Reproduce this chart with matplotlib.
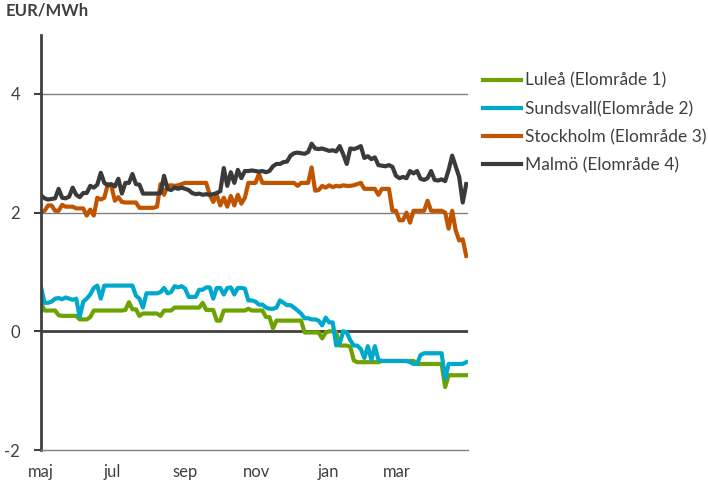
import numpy as np
import matplotlib
matplotlib.use('Agg')
import matplotlib.pyplot as plt

plt.rcParams['font.family'] = ['Lato', 'DejaVu Sans']
plt.rcParams['axes.unicode_minus'] = False

# dagar från 1 maj, var tredje dag
dagar = np.arange(0, 364, 3)

lulea = [0.47, 0.35, 0.35, 0.35, 0.35, 0.27, 0.26, 0.26, 0.26, 0.26,
         0.26, 0.20, 0.20, 0.20, 0.24, 0.35, 0.35, 0.35, 0.35, 0.35,
         0.35, 0.35, 0.35, 0.35, 0.36, 0.49, 0.37, 0.37, 0.26, 0.30,
         0.30, 0.30, 0.30, 0.30, 0.26, 0.35, 0.35, 0.35, 0.40, 0.40,
         0.40, 0.40, 0.40, 0.40, 0.40, 0.40, 0.48, 0.36, 0.36, 0.36,
         0.18, 0.18, 0.35, 0.35, 0.35, 0.35, 0.35, 0.35, 0.35, 0.38,
         0.35, 0.35, 0.35, 0.35, 0.24, 0.24, 0.05, 0.18, 0.18, 0.18,
         0.18, 0.18, 0.18, 0.18, 0.18, -0.02, -0.02, -0.02, -0.02, -0.02,
         -0.12, -0.02, 0.00, 0.00, -0.02, -0.24, -0.24, -0.24, -0.26, -0.49,
         -0.52, -0.52, -0.52, -0.52, -0.52, -0.52, -0.52, -0.50, -0.50, -0.50,
         -0.50, -0.50, -0.50, -0.50, -0.50, -0.50, -0.50, -0.55, -0.55, -0.55,
         -0.55, -0.55, -0.55, -0.55, -0.55, -0.94, -0.74, -0.74, -0.74, -0.74,
         -0.74, -0.74]

sundsvall = [0.74, 0.48, 0.48, 0.50, 0.55, 0.56, 0.54, 0.57, 0.55, 0.53,
             0.55, 0.24, 0.50, 0.55, 0.62, 0.73, 0.77, 0.55, 0.77, 0.77,
             0.77, 0.77, 0.77, 0.77, 0.77, 0.77, 0.77, 0.60, 0.55, 0.40,
             0.64, 0.64, 0.64, 0.64, 0.66, 0.73, 0.64, 0.66, 0.76, 0.74,
             0.76, 0.72, 0.58, 0.58, 0.58, 0.70, 0.70, 0.74, 0.74, 0.55,
             0.73, 0.73, 0.62, 0.73, 0.74, 0.62, 0.73, 0.73, 0.72, 0.52,
             0.52, 0.50, 0.45, 0.45, 0.40, 0.38, 0.38, 0.40, 0.52, 0.48,
             0.44, 0.44, 0.40, 0.35, 0.30, 0.22, 0.22, 0.20, 0.20, 0.18,
             0.10, 0.23, 0.15, 0.15, -0.24, -0.20, 0.00, -0.02, -0.15, -0.24,
             -0.24, -0.30, -0.45, -0.25, -0.48, -0.25, -0.48, -0.50, -0.50, -0.50,
             -0.50, -0.50, -0.50, -0.50, -0.50, -0.52, -0.55, -0.55, -0.40, -0.37,
             -0.37, -0.37, -0.37, -0.37, -0.37, -0.80, -0.55, -0.55, -0.55, -0.55,
             -0.55, -0.52]

stockholm = [2.00, 2.03, 2.12, 2.12, 2.03, 2.03, 2.13, 2.10, 2.10, 2.10,
             2.07, 2.07, 2.07, 1.95, 2.05, 1.95, 2.25, 2.22, 2.25, 2.48,
             2.45, 2.20, 2.26, 2.18, 2.17, 2.17, 2.17, 2.17, 2.08, 2.08,
             2.08, 2.08, 2.08, 2.10, 2.48, 2.30, 2.45, 2.46, 2.45, 2.46,
             2.48, 2.50, 2.50, 2.50, 2.50, 2.50, 2.50, 2.50, 2.30, 2.18,
             2.30, 2.12, 2.25, 2.10, 2.28, 2.12, 2.30, 2.15, 2.25, 2.50,
             2.50, 2.50, 2.65, 2.50, 2.50, 2.50, 2.50, 2.50, 2.50, 2.50,
             2.50, 2.50, 2.50, 2.45, 2.50, 2.50, 2.50, 2.76, 2.37, 2.38,
             2.45, 2.42, 2.46, 2.43, 2.45, 2.44, 2.46, 2.45, 2.45, 2.46,
             2.48, 2.50, 2.40, 2.40, 2.40, 2.40, 2.30, 2.40, 2.40, 2.40,
             2.03, 2.03, 1.87, 1.87, 2.00, 1.83, 2.03, 2.03, 2.03, 2.03,
             2.20, 2.03, 2.03, 2.03, 2.03, 2.00, 1.73, 2.03, 1.70, 1.53,
             1.55, 1.27]

malmo = [2.29, 2.24, 2.22, 2.23, 2.24, 2.40, 2.25, 2.24, 2.27, 2.42,
         2.30, 2.26, 2.33, 2.33, 2.45, 2.42, 2.47, 2.67, 2.50, 2.46,
         2.48, 2.44, 2.57, 2.32, 2.50, 2.50, 2.65, 2.48, 2.47, 2.32,
         2.32, 2.32, 2.32, 2.32, 2.33, 2.62, 2.40, 2.38, 2.42, 2.40,
         2.42, 2.40, 2.38, 2.33, 2.31, 2.32, 2.30, 2.31, 2.30, 2.31,
         2.33, 2.36, 2.75, 2.45, 2.68, 2.50, 2.72, 2.58, 2.70, 2.70,
         2.71, 2.70, 2.69, 2.70, 2.68, 2.70, 2.78, 2.82, 2.82, 2.85,
         2.86, 2.96, 3.00, 3.01, 3.00, 2.99, 3.02, 3.16, 3.08, 3.07,
         3.08, 3.06, 3.04, 3.05, 3.03, 3.12, 2.98, 2.82, 3.08, 3.07,
         3.09, 3.12, 2.92, 2.95, 2.90, 2.93, 2.80, 2.79, 2.78, 2.80,
         2.77, 2.62, 2.58, 2.60, 2.58, 2.70, 2.66, 2.70, 2.57, 2.55,
         2.58, 2.70, 2.55, 2.54, 2.56, 2.53, 2.72, 2.96, 2.78, 2.60,
         2.17, 2.48]

namn = ['Luleå (Elområde 1)', 'Sundsvall(Elområde 2)',
        'Stockholm (Elområde 3)', 'Malmö (Elområde 4)']
farger = ['#6CA300', '#00A8CC', '#C05400', '#3A3A3A']

manad_dag = [0, 61, 123, 184, 245, 304]
manad_namn = ['maj', 'jul', 'sep', 'nov', 'jan', 'mar']

fig = plt.figure(figsize=(7.08, 4.84), dpi=100)
ax = fig.add_axes([0.058, 0.0702, 0.603, 0.8585])

for serie, n, c in zip([lulea, sundsvall, stockholm, malmo], namn, farger):
    ax.plot(dagar, serie, color=c, lw=3.0, label=n, solid_joinstyle='round')

for y in [2, 4]:
    ax.axhline(y, color='#7f7f7f', lw=1.0, zorder=0)
ax.axhline(0, color='#404040', lw=2.0, zorder=0)

ax.set_xlim(0, 364.5)
ax.set_ylim(-2, 5)
ax.set_yticks([-2, 0, 2, 4])
ax.set_xticks(manad_dag)
ax.set_xticklabels(manad_namn)

for s in ['top', 'right']:
    ax.spines[s].set_visible(False)
ax.spines['left'].set_color('#404040')
ax.spines['left'].set_linewidth(2.0)
ax.spines['bottom'].set_color('#7f7f7f')
ax.spines['bottom'].set_linewidth(1.0)

ax.tick_params(axis='y', length=5, width=1.5, color='#404040', pad=10,
               labelsize=12, labelcolor='#404040')
ax.tick_params(axis='x', length=0, pad=10, labelsize=12, labelcolor='#404040')

fig.text(0.008, 0.978, 'EUR/MWh', fontsize=12, fontweight='bold',
         color='#404040', va='center', ha='left')

leg = ax.legend(loc='upper left', bbox_to_anchor=(0.682, 0.85),
                bbox_transform=fig.transFigure, frameon=False, fontsize=12.5,
                handlelength=2.2, handletextpad=0.25, labelspacing=0.7,
                borderpad=0, borderaxespad=0, labelcolor='#404040')

plt.savefig('out.png', dpi=100)
